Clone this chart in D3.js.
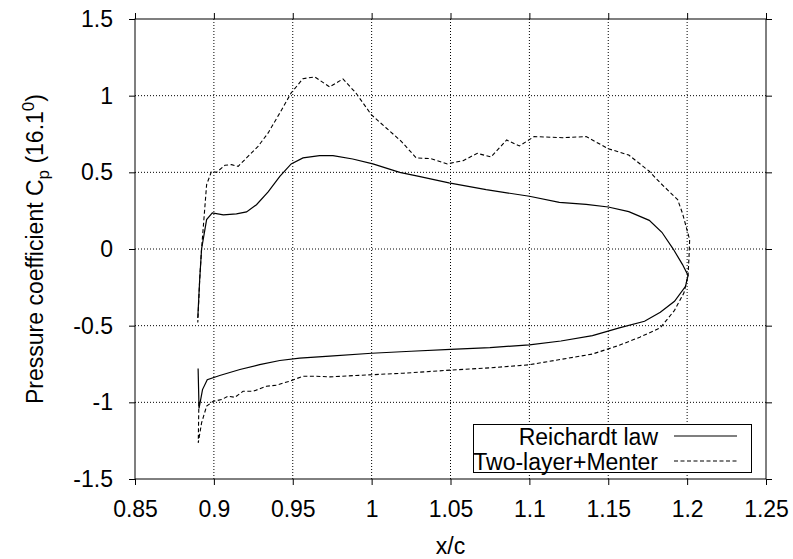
<!DOCTYPE html>
<html>
<head>
<meta charset="utf-8">
<script src="https://cdn.jsdelivr.net/npm/d3@7"></script>
<style>
body { margin: 0; background: #fff; }
text { font-family: "Liberation Sans", Arial, sans-serif; }
</style>
</head>
<body>
<script>
var width = 793, height = 559,
marginLeft = 135, marginRight = 27, marginTop = 19, marginBottom = 80;

var xTicks = [0.85, 0.9, 0.95, 1, 1.05, 1.1, 1.15, 1.2, 1.25];
var xTickLabels = ["0.85", "0.9", "0.95", "1", "1.05", "1.1", "1.15", "1.2", "1.25"];
var yTicks = [1.5, 1, 0.5, 0, -0.5, -1, -1.5];
var yTickLabels = ["1.5", "1", "0.5", "0", "-0.5", "-1", "-1.5"];

var seriesNames = ["Reichardt law", "Two-layer+Menter"];

// Reichardt law: lower surface LE -> TE, then upper surface TE -> LE
var reichX = [0.8900, 0.8906, 0.8928, 0.8958, 0.9037, 0.9165, 0.929, 0.9418, 0.9544, 0.9734,
  1.0, 1.025, 1.05, 1.075, 1.1, 1.12, 1.14, 1.157, 1.173, 1.183, 1.192, 1.199, 1.2006,
  1.197, 1.191, 1.184, 1.176, 1.163, 1.150, 1.136, 1.119, 1.10, 1.0726, 1.049, 1.030, 1.0178,
  1.0008, 0.988, 0.9755, 0.967, 0.9565, 0.949, 0.9418, 0.9344, 0.927, 0.9207, 0.9143, 0.906,
  0.899, 0.8954, 0.8922, 0.8910, 0.8898];
var reichY = [-0.78, -1.04, -0.917, -0.852, -0.825, -0.786, -0.754, -0.727, -0.712, -0.699,
  -0.68, -0.667, -0.655, -0.643, -0.625, -0.60, -0.565, -0.514, -0.471, -0.413, -0.341, -0.243, -0.172,
  -0.10, 0.003, 0.109, 0.187, 0.244, 0.274, 0.291, 0.304, 0.344, 0.387, 0.431, 0.474, 0.500,
  0.555, 0.587, 0.609, 0.609, 0.594, 0.555, 0.474, 0.372, 0.289, 0.242, 0.229, 0.222,
  0.235, 0.192, 0.0, -0.2, -0.45];

// Two-layer + Menter
var menterX = [0.8905, 0.8901, 0.8922, 0.8954, 0.8996, 0.9049, 0.909, 0.9133, 0.9185, 0.9249,
  0.9333, 0.9397, 0.948, 0.9565, 0.965, 0.9734, 0.99, 1.0, 1.02, 1.05, 1.075, 1.1, 1.12, 1.14,
  1.157, 1.17, 1.183, 1.192, 1.198, 1.2006,
  1.2012, 1.2016, 1.197, 1.194, 1.183, 1.176, 1.163, 1.150, 1.136, 1.121, 1.103, 1.0937, 1.0856,
  1.0757, 1.067, 1.058, 1.048, 1.0378, 1.0283, 1.0188, 1.0093, 0.9998, 0.990, 0.9818, 0.9734,
  0.964, 0.9565, 0.949, 0.9418, 0.9344, 0.928, 0.9207, 0.9154, 0.9112, 0.907, 0.9017, 0.8985,
  0.8954, 0.8922, 0.8910, 0.8898];
var menterY = [-1.0, -1.264, -1.134, -1.025, -0.993, -0.982, -0.96, -0.967, -0.928, -0.928,
  -0.895, -0.888, -0.862, -0.83, -0.83, -0.834, -0.825, -0.82, -0.81, -0.79, -0.775, -0.755, -0.72, -0.685,
  -0.628, -0.575, -0.514, -0.40, -0.286, -0.17,
  -0.05, 0.061, 0.235, 0.322, 0.431, 0.507, 0.613, 0.654, 0.733, 0.726, 0.733, 0.672, 0.711,
  0.600, 0.624, 0.576, 0.555, 0.589, 0.594, 0.702, 0.789, 0.876, 1.018, 1.109, 1.057,
  1.122, 1.111, 1.018, 0.887, 0.757, 0.669, 0.594, 0.539, 0.55, 0.546, 0.50, 0.506,
  0.42, 0.0, -0.2, -0.48];

var x = d3.scaleLinear().domain([0.85, 1.25]).range([marginLeft, width - marginRight]);
var y = d3.scaleLinear().domain([-1.5, 1.5]).range([height - marginBottom, marginTop]);

var svg = d3.select("body").append("svg")
  .attr("width", width)
  .attr("height", height);

// grid
svg.append("g")
  .selectAll("line")
  .data(xTicks.slice(1, -1))
  .enter().append("line")
  .attr("x1", function (d) { return x(d); })
  .attr("x2", function (d) { return x(d); })
  .attr("y1", y(-1.5))
  .attr("y2", y(1.5))
  .attr("stroke", "#000")
  .attr("stroke-width", 1)
  .attr("stroke-dasharray", "1,2");

svg.append("g")
  .selectAll("line")
  .data(yTicks.slice(1, -1))
  .enter().append("line")
  .attr("x1", x(0.85))
  .attr("x2", x(1.25))
  .attr("y1", function (d) { return y(d); })
  .attr("y2", function (d) { return y(d); })
  .attr("stroke", "#000")
  .attr("stroke-width", 1)
  .attr("stroke-dasharray", "1,2");

// axes
function styleAxis(g) {
  g.select(".domain").remove();
  g.selectAll(".tick line").attr("stroke", "#000");
  g.selectAll(".tick text").style("font-size", "23px").attr("fill", "#000");
}

svg.append("g")
  .attr("transform", "translate(0," + y(-1.5) + ")")
  .call(d3.axisBottom(x).tickValues(xTicks).tickSize(6).tickPadding(16)
    .tickFormat(function (d, i) { return xTickLabels[i]; }))
  .call(styleAxis);

svg.append("g")
  .attr("transform", "translate(0," + y(1.5) + ")")
  .call(d3.axisTop(x).tickValues(xTicks).tickSize(6).tickFormat(""))
  .call(styleAxis);

svg.append("g")
  .attr("transform", "translate(" + x(0.85) + ",0)")
  .call(d3.axisLeft(y).tickValues(yTicks).tickSize(6).tickPadding(16)
    .tickFormat(function (d, i) { return yTickLabels[i]; }))
  .call(styleAxis);

svg.append("g")
  .attr("transform", "translate(" + x(1.25) + ",0)")
  .call(d3.axisRight(y).tickValues(yTicks).tickSize(6).tickFormat(""))
  .call(styleAxis);

// border
svg.append("rect")
  .attr("x", x(0.85))
  .attr("y", y(1.5))
  .attr("width", x(1.25) - x(0.85))
  .attr("height", y(-1.5) - y(1.5))
  .attr("fill", "none")
  .attr("stroke", "#000")
  .attr("stroke-width", 1);

// curves
var line = d3.line()
  .x(function (d) { return x(d[0]); })
  .y(function (d) { return y(d[1]); });

svg.append("path")
  .datum(d3.zip(reichX, reichY))
  .attr("d", line)
  .attr("fill", "none")
  .attr("stroke", "#000")
  .attr("stroke-width", 1.2);

svg.append("path")
  .datum(d3.zip(menterX, menterY))
  .attr("d", line)
  .attr("fill", "none")
  .attr("stroke", "#000")
  .attr("stroke-width", 1.1)
  .attr("stroke-dasharray", "4,2.5");

// axis titles
svg.append("text")
  .attr("x", (x(0.85) + x(1.25)) / 2)
  .attr("y", 554)
  .attr("text-anchor", "middle")
  .style("font-size", "23px")
  .text("x/c");

var yt = svg.append("text")
  .attr("transform", "translate(43," + (y(-1.5) + y(1.5)) / 2 + ") rotate(-90)")
  .attr("text-anchor", "middle")
  .style("font-size", "23px");
yt.append("tspan").text("Pressure coefficient C");
yt.append("tspan").attr("dy", 6).style("font-size", "17px").text("p");
yt.append("tspan").attr("dy", -6).text(" (16.1");
yt.append("tspan").attr("dy", -9).style("font-size", "17px").text("0");
yt.append("tspan").attr("dy", 9).text(")");

// legend
var legend = svg.append("g");
legend.append("rect")
  .attr("x", 473.5)
  .attr("y", 424.5)
  .attr("width", 278)
  .attr("height", 48)
  .attr("fill", "#fff")
  .attr("stroke", "#000")
  .attr("stroke-width", 1);

var legendRows = legend.selectAll(".row")
  .data(seriesNames)
  .enter().append("g")
  .attr("transform", function (d, i) { return "translate(0," + (436 + i * 25) + ")"; });

legendRows.append("text")
  .attr("x", 658)
  .attr("y", 9)
  .attr("text-anchor", "end")
  .style("font-size", "23px")
  .text(function (d) { return d; });

legendRows.append("line")
  .attr("x1", 674)
  .attr("x2", 737)
  .attr("y1", 0)
  .attr("y2", 0)
  .attr("stroke", "#000")
  .attr("stroke-width", function (d, i) { return i === 0 ? 1.2 : 1.1; })
  .attr("stroke-dasharray", function (d, i) { return i === 0 ? null : "4,2.5"; });
</script>
</body>
</html>
